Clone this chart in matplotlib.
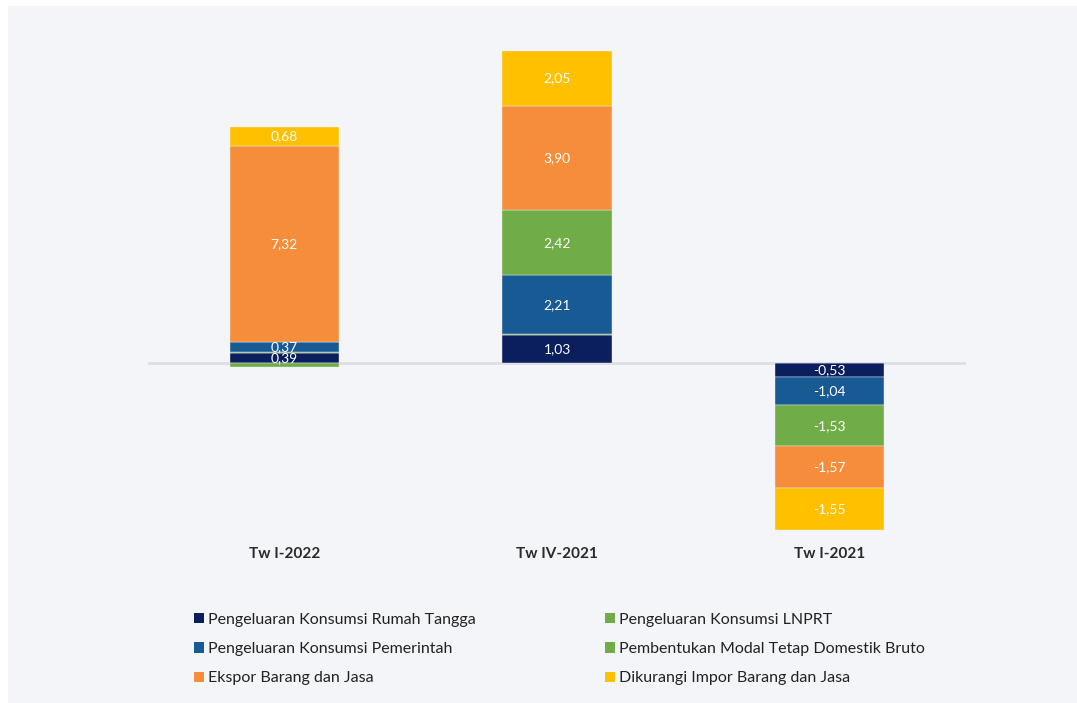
import matplotlib.pyplot as plt
from matplotlib.patches import Patch, Rectangle
import numpy as np

plt.rcParams['font.family'] = ['Lato', 'DejaVu Sans']

categories = ['Tw I-2022', 'Tw IV-2021', 'Tw I-2021']
series_names = [
    'Pengeluaran Konsumsi Rumah Tangga',
    'Pengeluaran Konsumsi LNPRT',
    'Pengeluaran Konsumsi Pemerintah',
    'Pembentukan Modal Tetap Domestik Bruto',
    'Ekspor Barang dan Jasa',
    'Dikurangi Impor Barang dan Jasa',
]
rumah_tangga = [0.39, 1.03, -0.53]
lnprt = [0.03, 0.04, 0.0]
pemerintah = [0.37, 2.21, -1.04]
pmtb = [-0.14, 2.42, -1.53]
ekspor = [7.32, 3.90, -1.57]
impor = [0.68, 2.05, -1.55]

colors = ['#0b1f5e', '#70ad47', '#175a94', '#70ad47', '#f58d3b', '#ffc000']
series = [rumah_tangga, lnprt, pemerintah, pmtb, ekspor, impor]

fig = plt.figure(figsize=(10.77, 7.03), dpi=100, facecolor='white')
fig.patches.append(Rectangle((8 / 1077, 0), 1, 697 / 703, transform=fig.transFigure,
                             facecolor='#f4f5f9', edgecolor='none', zorder=-10))

ax = fig.add_axes([148 / 1077, 163 / 703, 818 / 1077, 500 / 703])
ax.set_facecolor('none')
ax.set_zorder(5)

x = np.arange(len(categories))
pos_base = np.zeros(len(categories))
neg_base = np.zeros(len(categories))
for vals, color in zip(series, colors):
    vals = np.array(vals)
    bottoms = np.where(vals >= 0, pos_base, neg_base)
    ax.bar(x, vals, width=0.4, bottom=bottoms, color=color,
           edgecolor='#eceef3', linewidth=0.3, zorder=3)
    for xi, v, b in zip(x, vals, bottoms):
        if abs(v) >= 0.3:
            ax.text(xi, b + v / 2, f'{v:.2f}'.replace('.', ','), ha='center',
                    va='center', color='white', fontsize=10, zorder=4)
    pos_base = pos_base + np.where(vals >= 0, vals, 0)
    neg_base = neg_base + np.where(vals < 0, vals, 0)

ax.axhline(0, color='#dcdee4', linewidth=2, zorder=2)
ax.set_xlim(-0.5, 2.5)
ax.set_ylim(-6.6, 12.05)
ax.set_yticks([])
ax.set_xticks(x)
ax.set_xticklabels(categories, fontsize=11, fontweight='bold', color='#2a2a2a')
ax.tick_params(axis='x', length=0, pad=5)
for s in ax.spines.values():
    s.set_visible(False)

handles = [Patch(facecolor=c, edgecolor='none') for c in colors]
left = [0, 2, 4]
right = [1, 3, 5]
for idx, xpos in [(left, 194), (right, 605)]:
    leg = fig.legend([handles[i] for i in idx], [series_names[i] for i in idx],
                     loc='upper left', bbox_to_anchor=(xpos / 1077, 1 - 613 / 703),
                     frameon=False, fontsize=11.5, handlelength=0.6, handleheight=0.6,
                     handletextpad=0.3, labelspacing=0.95, borderpad=0, borderaxespad=0)
    for t in leg.get_texts():
        t.set_color('#222222')

fig.savefig('out.png', dpi=100, facecolor='white')
